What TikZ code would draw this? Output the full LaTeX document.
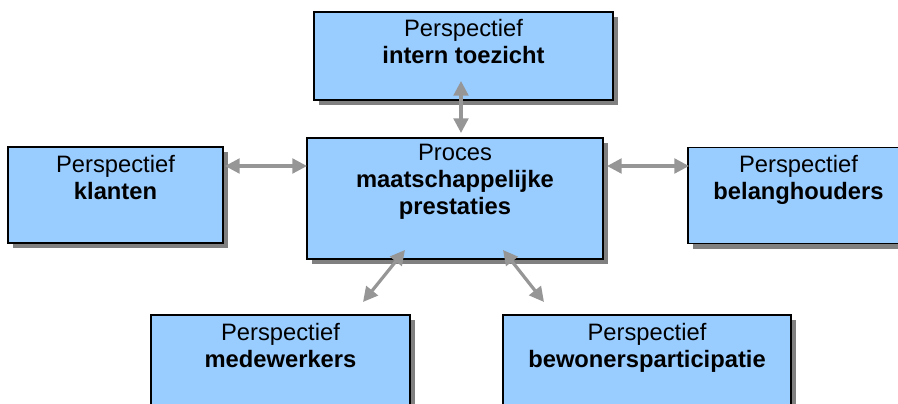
\documentclass[tikz,border=0pt]{standalone}
\usepackage{fontspec}
\setmainfont{Liberation Sans}
\usetikzlibrary{arrows.meta,shadows}

\definecolor{boxblue}{RGB}{153,204,255}
\definecolor{shadowgray}{RGB}{128,128,128}
\definecolor{arrowgray}{RGB}{150,150,150}

\tikzset{every picture/.style={line width=0.75pt}}
\tikzset{
  box/.style={draw=black, line width=1.1pt, fill=boxblue, rectangle, inner sep=0pt,
    drop shadow={shadow xshift=3.75pt, shadow yshift=-3.75pt, fill=shadowgray, opacity=1}},
  txt/.style={anchor=north, align=center, inner sep=0pt,
    font=\fontsize{17.8}{20.3}\selectfont},
  conn/.style={draw=arrowgray, line width=2.4pt,
    {Triangle[length=11pt,width=11pt]}-{Triangle[length=11pt,width=11pt]}}
}

\begin{document}
\begin{tikzpicture}[x=0.75pt,y=0.75pt,yscale=-1,xscale=1]
\useasboundingbox (0,0) rectangle (898,403);
\clip (0,0) rectangle (898,403);

%Shape: Rectangle [top]
\node [box, minimum width=224.25pt, minimum height=66pt] (toezicht) at (463.5,56) {};
%Shape: Rectangle [centre]
\node [box, minimum width=222pt, minimum height=90.75pt] (proces) at (455,198.5) {};
%Shape: Rectangle [left]
\node [box, minimum width=161.25pt, minimum height=72pt] (klanten) at (115.5,195) {};
%Shape: Rectangle [right]
\node [box, minimum width=165.75pt, minimum height=72pt] (belang) at (798.5,195.5) {};
%Shape: Rectangle [bottom left]
\node [box, minimum width=194.25pt, minimum height=75pt] (medewerkers) at (280.5,365) {};
%Shape: Rectangle [bottom right]
\node [box, minimum width=216pt, minimum height=75pt] (bewoners) at (647,365) {};

% Text Node
\node [txt] (toezichttxt) at (463.5,19) {Perspectief\\\textbf{intern toezicht}};
% Text Node
\node [txt] (procestxt) at (455,144) {Proces\\\textbf{maatschappelijke}\\\textbf{prestaties}};
% Text Node
\node [txt] (klantentxt) at (115.5,155) {Perspectief\\\textbf{klanten}};
% Text Node
\node [txt] (belangtxt) at (798.5,155) {Perspectief\\\textbf{belanghouders}};
% Text Node
\node [txt] (medewerkerstxt) at (280.5,323) {Perspectief\\\textbf{medewerkers}};
% Text Node
\node [txt] (bewonerstxt) at (647,323) {Perspectief\\\textbf{bewonersparticipatie}};

%Arrow ends
\coordinate (toezicht-s) at (461,81);
\coordinate (proces-n) at (461,133);
\coordinate (klanten-e) at (225,166);
\coordinate (proces-w) at (307,166);
\coordinate (proces-e) at (607,166);
\coordinate (belang-w) at (689,166);
\coordinate (proces-sw) at (405,250);
\coordinate (medewerkers-n) at (363,302);
\coordinate (proces-se) at (503,250);
\coordinate (bewoners-n) at (544,302);

%Straight Lines
\draw [conn] (toezicht-s) -- (proces-n);
\draw [conn] (klanten-e) -- (proces-w);
\draw [conn] (proces-e) -- (belang-w);
\draw [conn] (proces-sw) -- (medewerkers-n);
\draw [conn] (proces-se) -- (bewoners-n);

\end{tikzpicture}
\end{document}
